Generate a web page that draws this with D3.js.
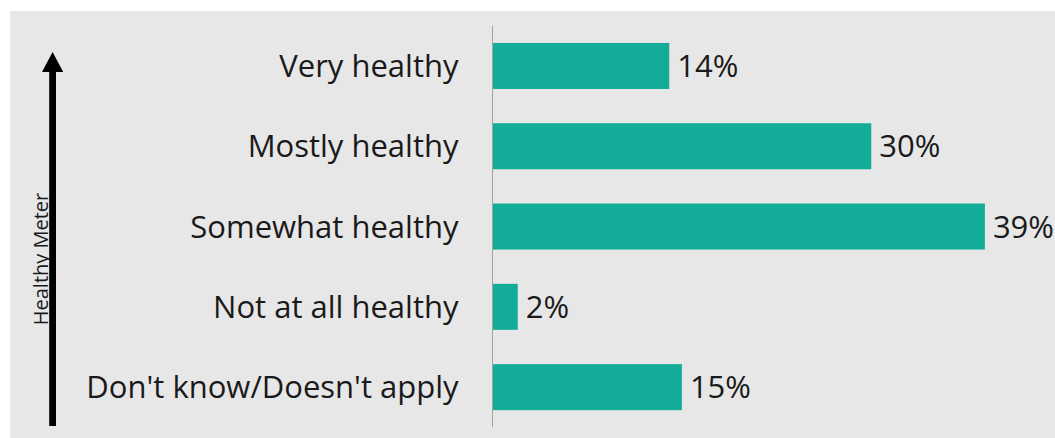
<!DOCTYPE html>
<html>
<head>
<meta charset="utf-8">
<script src="https://cdn.jsdelivr.net/npm/d3@7"></script>
<style>
  html, body { margin: 0; padding: 0; background: #ffffff; }
  svg { display: block; }
  text { font-family: "Open Sans", "Noto Sans", sans-serif; fill: #1a1a1a; }
</style>
</head>
<body>
<svg id="chart" width="1055" height="438"></svg>
<script>
// Survey answers, top to bottom
const categories = ["Very healthy", "Mostly healthy", "Somewhat healthy", "Not at all healthy", "Don't know/Doesn't apply"];
const shares = [14, 30, 39, 2, 15];
const axisTitle = "Healthy Meter";

const svg = d3.select("#chart");
const W = 1055, H = 438;

// panel background
svg.append("rect")
  .attr("x", 10).attr("y", 11)
  .attr("width", W - 10).attr("height", H - 11)
  .attr("fill", "#e7e7e7");

const x = d3.scaleLinear().domain([0, 40]).range([492.5, 997.5]);
const y = d3.scaleBand()
  .domain(categories)
  .range([25.8, 427.3])
  .paddingInner(0.427)
  .paddingOuter(0.2135);

const rows = categories.map((c, i) => ({ cat: c, v: shares[i] }));

// bars
svg.append("g").selectAll("rect")
  .data(rows)
  .join("rect")
  .attr("x", x(0))
  .attr("y", d => y(d.cat))
  .attr("width", d => x(d.v) - x(0))
  .attr("height", y.bandwidth())
  .attr("fill", "#13ac98");

// value labels
svg.append("g").selectAll("text")
  .data(rows)
  .join("text")
  .attr("x", d => x(d.v) + 8)
  .attr("y", d => y(d.cat) + y.bandwidth() / 2)
  .attr("dy", "0.36em")
  .attr("font-size", 31)
  .text(d => d.v + "%");

// category axis
const yAxis = svg.append("g")
  .attr("transform", `translate(${x(0)},0)`)
  .call(d3.axisLeft(y).tickSize(0).tickPadding(34));
yAxis.select(".domain")
  .attr("d", `M0,${y.range()[0]}V${y.range()[1]}`)
  .attr("stroke", "#a3a3a3")
  .attr("stroke-width", 1);
yAxis.selectAll(".tick text")
  .attr("font-size", 31)
  .attr("font-family", null)
  .attr("fill", "#1a1a1a")
  .attr("dy", "0.36em");

// rotated axis title, sitting beside the arrow
svg.append("text")
  .attr("transform", "translate(48,259) rotate(-90)")
  .attr("text-anchor", "middle")
  .attr("font-size", 20)
  .text(axisTitle);

// upward arrow
svg.append("rect")
  .attr("x", 49.2).attr("y", 70)
  .attr("width", 6.8).attr("height", 356)
  .attr("fill", "#000");
svg.append("path")
  .attr("d", "M52.6,52 L63.2,72 L42,72 Z")
  .attr("fill", "#000");
</script>
</body>
</html>
